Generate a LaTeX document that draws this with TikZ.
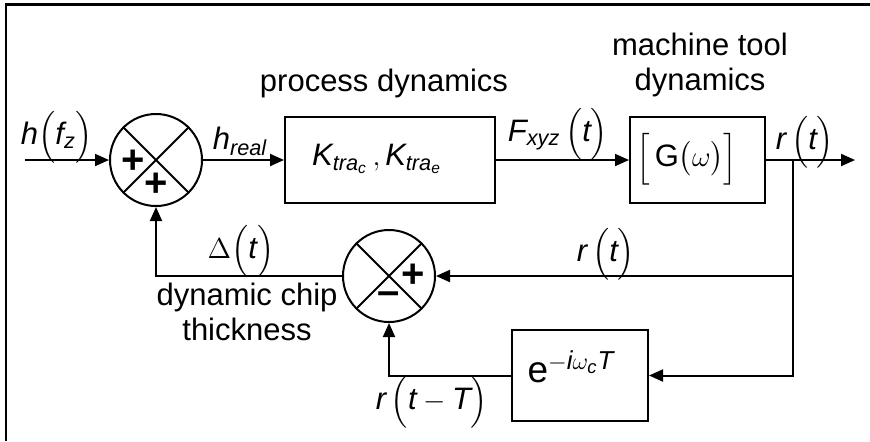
\documentclass[tikz,border=0pt]{standalone}
\usepackage{amsmath}
\usepackage{fontspec}
\setmainfont{Liberation Sans}
\usetikzlibrary{arrows.meta, positioning}
\newcommand{\mv}[1]{\textit{#1}}
\tikzset{
  sig/.style={line width=1pt, -{Triangle[length=7pt,width=6pt]}},
  blk/.style={draw, line width=1pt, inner sep=0pt},
  sumnode/.style={draw, circle, line width=1pt, minimum size=46pt, inner sep=0pt},
  sgn/.style={font=\fontsize{20}{20}\selectfont\bfseries, inner sep=0pt},
  lbl/.style={inner sep=0.5pt},
}

\begin{document}
\begin{tikzpicture}[x=0.5pt, y=-0.5pt, font=\fontsize{15.5}{17.5}\selectfont]
  \useasboundingbox (0,0) rectangle (870,441);
  \draw[line width=1.35pt] (6,441) -- (6,4.7) -- (870,4.7);
  % summing junctions
  \node[sumnode] (s1) at (156,160) {};
  \node[sumnode] (s2) at (389,276) {};
  \foreach \s in {s1,s2}{
    \draw[line width=1pt] (\s.45) -- (\s.225);
    \draw[line width=1pt] (\s.135) -- (\s.-45);
  }
  \node[sgn] (s1l) at (133,162) {+};
  \node[sgn] (s1b) at (156,185) {+};
  \node[sgn] (s2r) at (413,276) {+};
  \node[sgn] (s2b) at (389,298) {--};
  % blocks
  \node[blk, minimum width=105pt, minimum height=43pt] (proc) at (390,160) {};
  \node[blk, minimum width=67.5pt, minimum height=43pt] (mach) at (697.5,160) {};
  \node[blk, minimum width=68pt, minimum height=45.5pt] (delay) at (580,375.5) {};
  \node[lbl] (ktxt) at (377,159) {$\mv{K}_{\mv{tra}_{\mv{c}}}\,,\mv{K}_{\mv{tra}_{\mv{e}}}$};
  \node[lbl] (gtxt) at (687,159) {$\Bigl[\,\text{G}\bigl(\omega\bigr)\Bigr]$};
  \node[lbl, font=\fontsize{18.5}{20}\selectfont] (etxt) at (571,367) {$\text{e}^{-\mv{i}\omega_{\mv{c}}\mv{T}}$};
  % coordinates
  \coordinate (in) at (25,160);
  \coordinate (j) at (793,160);
  \coordinate (out) at (855,160);
  % signals
  \draw[sig] (in) -- (s1);
  \draw[sig] (s1) -- (proc);
  \draw[sig] (proc) -- (mach);
  \draw[sig] (mach) -- (out);
  \draw[sig] (j) |- (s2);
  \draw[sig] (j) |- (delay);
  \draw[sig] (delay) -| (s2);
  \draw[sig] (s2) -| (s1);
  % labels
  \node[lbl] (lh) at (57,137) {$\mv{h}\Bigl(\mv{f}_{\mv{z}}\Bigr)$};
  \node[lbl] (lhr) at (240,141) {$\mv{h}_{\mv{real}}$};
  \node[lbl] (lf) at (558,134) {$\mv{F}_{\mv{xyz}}\,\Bigl(\mv{t}\Bigr)$};
  \node[lbl] (lr1) at (805,142) {$\mv{r}\,\Bigl(\mv{t}\Bigr)$};
  \node[lbl] (lr2) at (606,254) {$\mv{r}\,\Bigl(\mv{t}\Bigr)$};
  \node[lbl] (lrt) at (432,402) {$\mv{r}\,\Bigl(\mv{t}-\mv{T}\Bigr)$};
  \node[lbl] (ld) at (241,251) {$\Delta\Bigl(\mv{t}\Bigr)$};
  \node[lbl] (lproc) at (384,83) {process dynamics};
  \node[lbl, align=center] (lmach) at (700,65) {machine tool\\dynamics};
  \node[lbl, align=center] (lchip) at (247,312) {dynamic chip\\thickness};
\end{tikzpicture}
\end{document}
